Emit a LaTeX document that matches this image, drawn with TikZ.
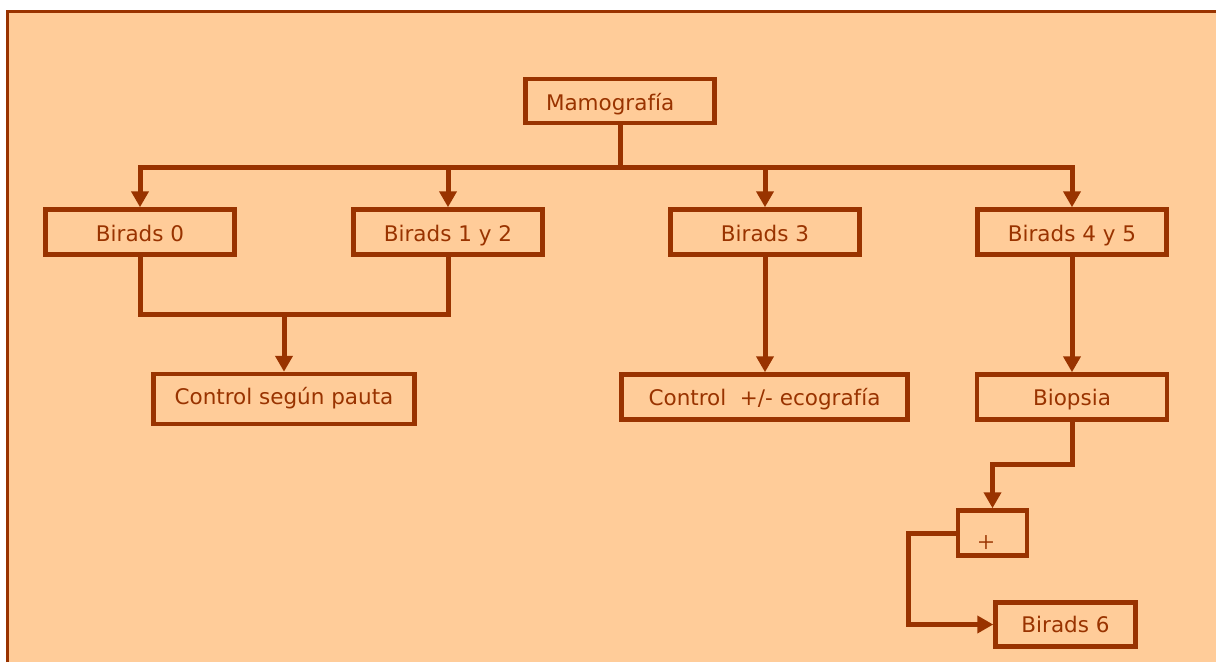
\documentclass[tikz,border=0pt]{standalone}
\usepackage{fontspec}
\setmainfont{DejaVu Sans}
\newfontfamily\plusfont{Liberation Serif}
\usetikzlibrary{arrows.meta}
\definecolor{peach}{HTML}{FFCC99}
\definecolor{rust}{HTML}{993300}
\begin{document}
\begin{tikzpicture}[x=1pt,y=-1pt,
  box/.style={draw=rust, line width=4.5pt, text=rust, font=\fontsize{21.5}{25}\selectfont, inner sep=0pt, anchor=center, text height=22pt, text depth=4pt},
  lowbox/.style={box, text height=20pt, text depth=4pt},
  conn/.style={draw=rust, line width=5pt, line cap=rect},
  arr/.style={draw=rust, line width=5pt, -{Triangle[length=16pt,width=17pt]}}]
\useasboundingbox (0,0) rectangle (1216,662);
\fill[white] (0,0) rectangle (1216,662);
\fill[peach] (6,10) rectangle (1216,662);
\draw[rust, line width=3pt] (7.5,662) -- (7.5,11.5) -- (1216,11.5);

\node[box, minimum width=189, minimum height=44, text width=148, align=left] (mamo) at (620,101) {Mamografía};
\node[box, minimum width=189, minimum height=45] (b0) at (140,232) {Birads 0};
\node[box, minimum width=189, minimum height=45] (b12) at (448,232) {Birads 1 y 2};
\node[box, minimum width=189, minimum height=45] (b3) at (765,232) {Birads 3};
\node[box, minimum width=189, minimum height=45] (b45) at (1072,232) {Birads 4 y 5};
\node[box, minimum width=261, minimum height=50, text height=15pt, text depth=4pt] (ctrl) at (284,399) {Control según pauta};
\node[lowbox, minimum width=286, minimum height=45] (eco) at (764.5,397) {Control\ \ +/- ecografía};
\node[lowbox, minimum width=190, minimum height=45] (bio) at (1072,397) {Biopsia};
\node[box, minimum width=69, minimum height=45] (plus) at (992.5,533) {};
\node[text=rust, font=\plusfont\fontsize{30}{32}\selectfont, inner sep=0pt] (plustxt) at (986,544) {+};
\node[lowbox, minimum width=140, minimum height=44] (b6) at (1065.5,624.5) {Birads 6};

\coordinate (bar) at (620,167);
\coordinate (merge) at (284,314);
\coordinate (bend1) at (1072,464);
\coordinate (bend2) at (908,533);

\draw[conn] (mamo.south) -- (bar);
\draw[conn] (b0.north |- bar) -- (b45.north |- bar);
\draw[arr] (b0.north |- bar) -- (b0.north);
\draw[arr] (b12.north |- bar) -- (b12.north);
\draw[arr] (b3.north |- bar) -- (b3.north);
\draw[arr] (b45.north |- bar) -- (b45.north);

\draw[conn] (b0.south) |- (merge) -| (b12.south);
\draw[arr] (merge) -- (ctrl.north);
\draw[arr] (b3.south) -- (b3.south |- eco.north);
\draw[arr] (b45.south) -- (bio.north);
\draw[arr] (bio.south) -- (bend1) -| (plus.north);
\draw[arr] (plus.west) -- (bend2) |- (b6.west);
\end{tikzpicture}
\end{document}
